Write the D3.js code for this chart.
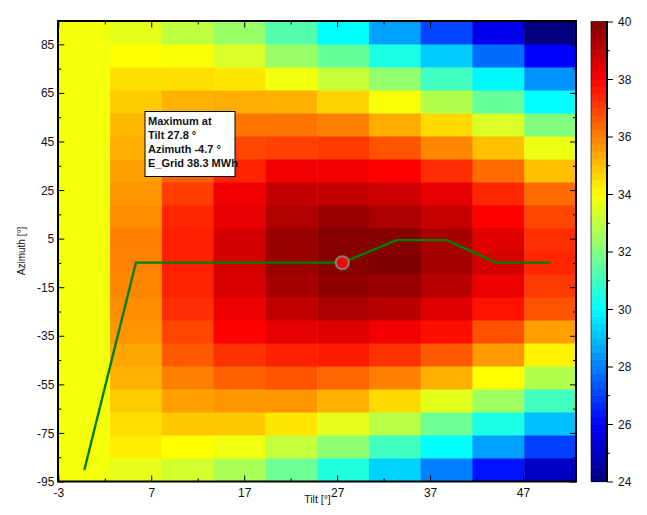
<!DOCTYPE html>
<html><head><meta charset="utf-8">
<script src="https://cdn.jsdelivr.net/npm/d3@7"></script>
<style>html,body{margin:0;padding:0;background:#fff}svg{display:block}text{font-family:"Liberation Sans",Arial,sans-serif;fill:#111}</style>
</head><body><svg id="c" width="647" height="515"></svg>
<script>
const tiltEdges=[-3,2.57,8.14,13.71,19.28,24.85,30.42,35.99,41.56,47.13,52.7];
const azimuthEdges=[94.4,84.93,75.46,65.99,56.52,47.05,37.58,28.11,18.64,9.17,-0.3,-9.77,-19.24,-28.71,-38.18,-47.65,-57.12,-66.59,-76.06,-85.53,-95];
const gridValues=[
[33.82,33.6,33.0,32.4,31.3,30.0,28.5,27.1,25.7,24.0],
[33.82,34.0,33.9,33.4,32.4,31.6,30.4,29.2,27.7,26.0],
[33.82,34.5,34.5,34.4,33.8,33.1,32.3,31.0,29.9,28.3],
[33.82,34.8,35.2,35.3,35.25,34.7,33.9,32.8,31.6,30.0],
[33.82,35.1,35.7,36.2,36.2,36.0,35.3,34.6,33.4,32.0],
[33.82,35.3,36.0,36.9,37.0,37.1,36.7,35.9,35.0,33.7],
[33.82,35.5,36.5,37.45,38.2,38.2,38.0,37.3,36.3,35.0],
[33.82,35.65,37.05,38.2,38.95,38.95,38.8,38.4,37.4,36.3],
[33.82,35.8,37.4,38.4,39.25,39.6,39.3,38.9,38.0,36.9],
[33.82,36.0,37.5,38.7,39.6,39.9,39.9,39.4,38.5,37.3],
[33.82,35.95,37.5,38.7,39.6,39.9,39.95,39.4,38.7,37.4],
[33.82,35.9,37.45,38.6,39.4,39.75,39.6,39.1,38.3,37.1],
[33.82,35.8,37.3,38.3,38.95,39.3,39.1,38.5,37.7,36.7],
[33.82,35.65,36.9,38.0,38.4,38.5,38.2,37.8,36.75,35.5],
[33.82,35.4,36.6,37.2,37.5,37.6,37.2,36.6,35.6,34.2],
[33.82,35.25,36.0,36.5,36.7,36.4,36.0,35.25,34.0,32.8],
[33.82,34.8,35.5,35.65,35.65,35.25,34.6,33.55,32.5,31.0],
[33.82,34.5,34.85,34.85,34.4,33.6,32.9,31.7,30.4,29.0],
[33.82,34.3,34.0,33.8,33.05,32.2,31.0,30.0,28.5,27.0],
[33.82,33.6,33.3,32.65,31.7,30.5,29.3,28.0,26.3,25.0]];
const lineTilt=[-0.2,5.35,27.56,33.4,38.8,44.1,49.95];
const lineAzimuth=[-90.3,-4.9,-4.9,4.4,4.4,-4.9,-4.9];
const maxPoint=[27.56,-4.9];
const xMajor=[-3,7,17,27,37,47], xMinor=[2,12,22,32,42,52];
const yMajor=[-95,-75,-55,-35,-15,5,25,45,65,85], yMinor=[-85,-65,-45,-25,-5,15,35,55,75];
const cMajor=[24,26,28,30,32,34,36,38,40], cMinor=[25,27,29,31,33,35,37,39];
const jetStops=[24,26,28,30,32,34,36,38,40];
const jetColors=["#000080","#0000ff","#0080ff","#00ffff","#80ff80","#ffff00","#ff8000","#ff0000","#800000"];
const noteLines=["Maximum at","Tilt 27.8 °","Azimuth -4.7 °","E_Grid 38.3 MWh"];

const svg=d3.select("#c");
const L=58.3,R=576,T=21.5,B=481.5;
const x=d3.scaleLinear().domain([-3,52.7]).range([L,R]);
const y=d3.scaleLinear().domain([-95,94.4]).range([B,T]);
const col=d3.scaleLinear().domain(jetStops).range(jetColors).interpolate(d3.interpolateRgb);
const c=d3.scaleLinear().domain([24,40]).range([B,T]);

gridValues.forEach((row,i)=>row.forEach((v,j)=>{
  svg.append("rect").attr("x",x(tiltEdges[j])).attr("y",y(azimuthEdges[i]))
    .attr("width",x(tiltEdges[j+1])-x(tiltEdges[j])+.5)
    .attr("height",y(azimuthEdges[i+1])-y(azimuthEdges[i])+.5)
    .attr("fill",col(v));
}));

function ax(gen,tr,vals,size,labels){
  const g=svg.append("g").attr("transform",tr).call(gen.tickValues(vals).tickFormat(String).tickSize(size).tickSizeOuter(0));
  g.select(".domain").remove();
  g.selectAll("line").attr("stroke","#000").attr("stroke-width",1);
  if(!labels) g.selectAll("text").remove();
  else g.selectAll("text").attr("font-size",12).attr("font-family","Liberation Sans");
  return g;
}
ax(d3.axisLeft(y),`translate(${L},0)`,yMinor,-3,false);
ax(d3.axisRight(y),`translate(${R},0)`,yMinor,-3,false);
ax(d3.axisRight(y),`translate(${R},0)`,yMajor,-6,false);
ax(d3.axisTop(x),`translate(0,${T})`,xMinor,-3,false);
ax(d3.axisBottom(x),`translate(0,${B})`,xMinor,-3,false);
ax(d3.axisTop(x),`translate(0,${T})`,xMajor,-6,false);
const yl=ax(d3.axisLeft(y),`translate(${L},0)`,yMajor,-6,true);
yl.selectAll("text").attr("x",-4).attr("dy","0.34em");
const xl=ax(d3.axisBottom(x),`translate(0,${B})`,xMajor,-6,true);
xl.selectAll("text").attr("y",7).attr("dy","0.71em");

svg.append("rect").attr("x",L-.3).attr("y",T-.5).attr("width",R-L+.3).attr("height",B-T+.5)
  .attr("fill","none").attr("stroke","#000").attr("stroke-width",2);

svg.append("path").datum(lineTilt.map((t,i)=>[t,lineAzimuth[i]]))
  .attr("d",d3.line().x(d=>x(d[0])).y(d=>y(d[1])))
  .attr("fill","none").attr("stroke","#008000").attr("stroke-width",2.4);
svg.append("circle").attr("cx",x(maxPoint[0])).attr("cy",y(maxPoint[1])).attr("r",6.5)
  .attr("fill","#ff0000").attr("stroke","#808080").attr("stroke-width",2);

svg.append("rect").attr("x",145).attr("y",111.5).attr("width",90).attr("height",65)
  .attr("fill","#fff").attr("stroke","#000").attr("stroke-width",1);
noteLines.forEach((s,i)=>svg.append("text").attr("x",148).attr("y",125+14*i)
  .attr("font-size",11).attr("font-weight","bold").text(s));

svg.append("text").attr("x",317.5).attr("y",503).attr("text-anchor","middle").attr("font-size",10.5).text("Tilt [°]");
svg.append("text").attr("transform","translate(25,251) rotate(-90)").attr("text-anchor","middle").attr("font-size",10).text("Azimuth [°]");

const steps=d3.range(64);
svg.selectAll("rect.cb").data(steps).join("rect").attr("class","cb").attr("x",591).attr("width",16)
  .attr("y",d=>c(24+(d+1)*16/64)).attr("height",16/64*(B-T)/16+.6).attr("fill",d=>col(24+(d+.5)*16/64));
svg.append("rect").attr("x",591).attr("y",T).attr("width",16).attr("height",B-T).attr("fill","none").attr("stroke","#000").attr("stroke-width",.6);
svg.append("line").attr("x1",607).attr("x2",607).attr("y1",T-.5).attr("y2",B+.5).attr("stroke","#000").attr("stroke-width",2);
ax(d3.axisRight(c),"translate(607,0)",cMinor,3,false);
const cl=ax(d3.axisRight(c),"translate(607,0)",cMajor,6,true);
cl.selectAll("text").attr("x",11).attr("dy","0.34em");
</script></body></html>
